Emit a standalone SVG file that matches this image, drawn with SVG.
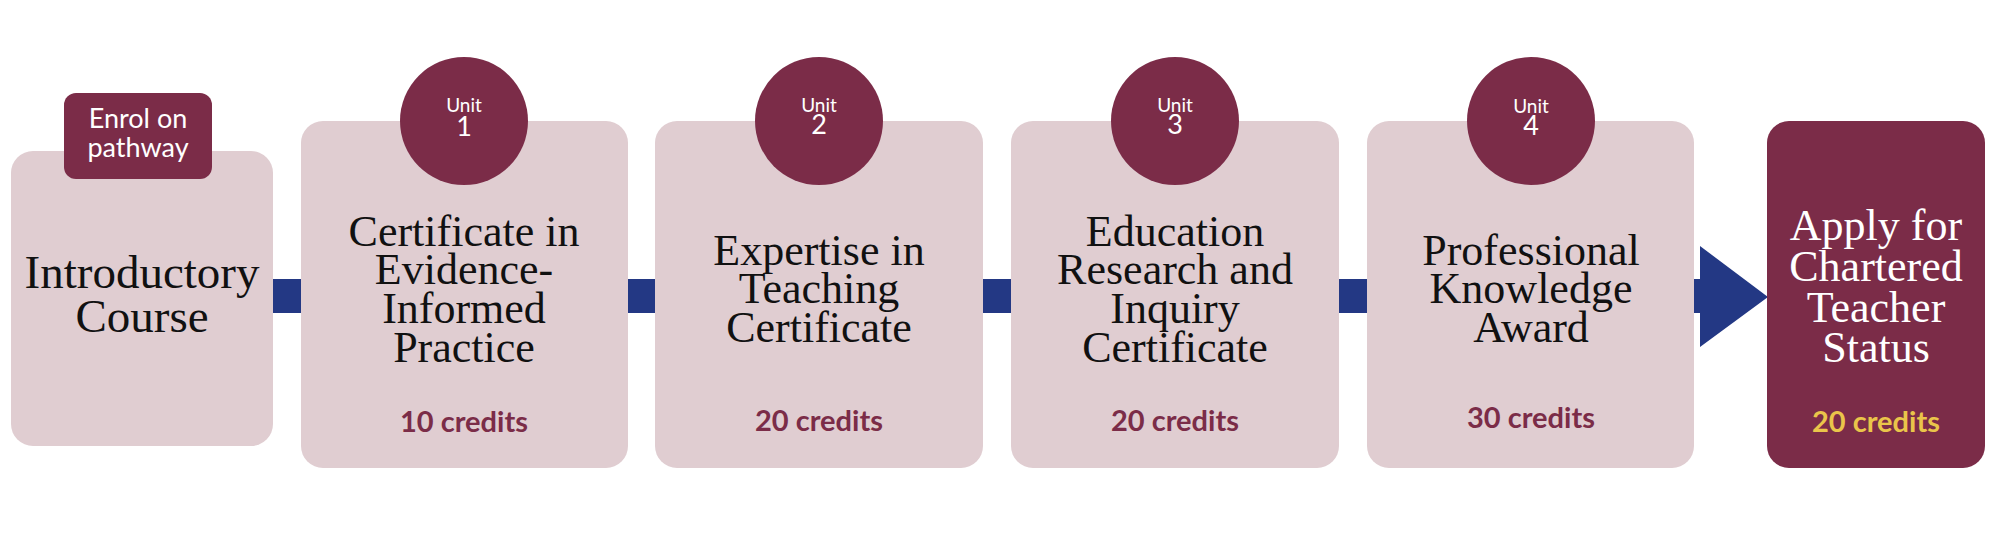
<svg xmlns="http://www.w3.org/2000/svg" width="2000" height="555" viewBox="0 0 2000 555">
<style>
.box{fill:#E0CDD1}
.dark{fill:#7B2C48}
.bar{fill:#233884}
.title{font-family:"Liberation Serif","Times New Roman",serif;font-size:44px;fill:#111;text-anchor:middle}
.sans{font-family:Lato,"Open Sans",sans-serif;text-anchor:middle}
.credit{font-size:29px;font-weight:700;fill:#7B2C48}
.unit{font-size:19px;fill:#fff}
.num{font-size:27px}
.enrol{font-size:27px;fill:#fff}
</style>
<rect width="2000" height="555" fill="#fff"/>
<g id="connectors">
  <rect class="bar" x="272" y="279" width="31" height="34"/>
  <rect class="bar" x="627" y="279" width="30" height="34"/>
  <rect class="bar" x="982" y="279" width="31" height="34"/>
  <rect class="bar" x="1338" y="279" width="31" height="34"/>
  <path class="bar" d="M1693,279 H1700 V246 L1768,297 L1700,347 V313 H1693 Z"/>
</g>
<g id="intro">
  <rect class="box" x="11" y="151" width="262" height="295" rx="22"/>
  <text class="title" style="font-size:47px"><tspan x="142" y="288">Introductory</tspan><tspan x="142" y="332">Course</tspan></text>
</g>
<g id="enrol">
  <rect class="dark" x="64" y="93" width="148" height="86" rx="12"/>
  <text class="sans enrol"><tspan x="138" y="128">Enrol on</tspan><tspan x="138" y="157">pathway</tspan></text>
</g>
<g id="unit1">
  <rect class="box" x="301" y="121" width="327" height="347" rx="22"/>
  <circle class="dark" cx="464" cy="121" r="64"/>
  <text class="sans unit"><tspan x="464" y="112">Unit</tspan><tspan class="num" x="464" y="136">1</tspan></text>
  <text class="title"><tspan x="464" y="246">Certificate in</tspan><tspan x="464" y="284">Evidence-</tspan><tspan x="464" y="323">Informed</tspan><tspan x="464" y="362">Practice</tspan></text>
  <text class="sans credit" x="464" y="432">10 credits</text>
</g>
<g id="unit2">
  <rect class="box" x="655" y="121" width="328" height="347" rx="22"/>
  <circle class="dark" cx="819" cy="121" r="64"/>
  <text class="sans unit"><tspan x="819" y="112">Unit</tspan><tspan class="num" x="819" y="134">2</tspan></text>
  <text class="title"><tspan x="819" y="265">Expertise in</tspan><tspan x="819" y="303">Teaching</tspan><tspan x="819" y="342">Certificate</tspan></text>
  <text class="sans credit" x="819" y="431">20 credits</text>
</g>
<g id="unit3">
  <rect class="box" x="1011" y="121" width="328" height="347" rx="22"/>
  <circle class="dark" cx="1175" cy="121" r="64"/>
  <text class="sans unit"><tspan x="1175" y="112">Unit</tspan><tspan class="num" x="1175" y="134">3</tspan></text>
  <text class="title"><tspan x="1175" y="246">Education</tspan><tspan x="1175" y="284">Research and</tspan><tspan x="1175" y="323">Inquiry</tspan><tspan x="1175" y="362">Certificate</tspan></text>
  <text class="sans credit" x="1175" y="431">20 credits</text>
</g>
<g id="unit4">
  <rect class="box" x="1367" y="121" width="327" height="347" rx="22"/>
  <circle class="dark" cx="1531" cy="121" r="64"/>
  <text class="sans unit"><tspan x="1531" y="113">Unit</tspan><tspan class="num" x="1531" y="135">4</tspan></text>
  <text class="title"><tspan x="1531" y="265">Professional</tspan><tspan x="1531" y="303">Knowledge</tspan><tspan x="1531" y="342">Award</tspan></text>
  <text class="sans credit" x="1531" y="428">30 credits</text>
</g>
<g id="chartered">
  <rect class="dark" x="1767" y="121" width="218" height="347" rx="22"/>
  <text class="title" style="fill:#fff"><tspan x="1876" y="240">Apply for</tspan><tspan x="1876" y="281">Chartered</tspan><tspan x="1876" y="322">Teacher</tspan><tspan x="1876" y="362">Status</tspan></text>
  <text class="sans credit" x="1876" y="432" style="fill:#EAC54A">20 credits</text>
</g>
</svg>
